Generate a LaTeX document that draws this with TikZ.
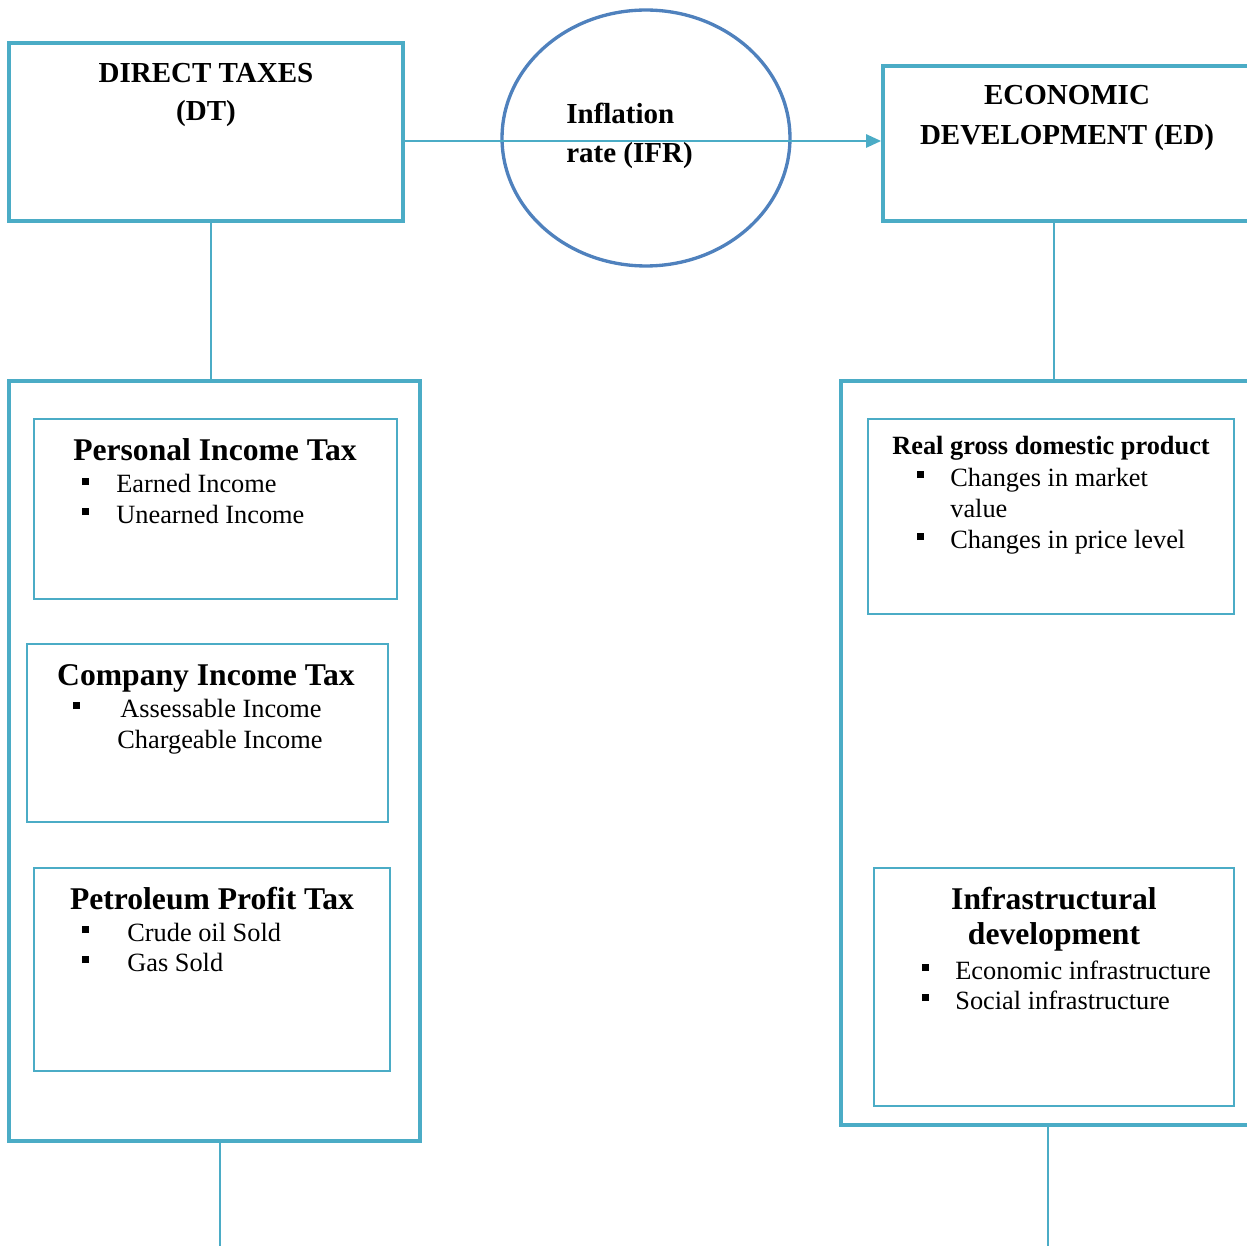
\documentclass[tikz,border=0pt]{standalone}
\usepackage{fontspec}
\setmainfont{Liberation Serif}
\usetikzlibrary{arrows.meta,fit,shapes.geometric}
\definecolor{tealfive}{RGB}{75,172,198}
\definecolor{ellblue}{RGB}{79,129,189}
\newcommand{\bsq}{\rule[0.3em]{0.27em}{0.27em}}
\newcommand{\bitem}[2]{\makebox[#1][l]{\bsq}#2}
\begin{document}
\begin{tikzpicture}[x=0.02cm,y=-0.02cm,
  outerbox/.style={draw=tealfive,line width=2.1pt,inner sep=0pt},
  bigbox/.style={draw=tealfive,line width=2.4pt,inner sep=0pt},
  innerbox/.style={draw=tealfive,line width=1.3pt,inner sep=0pt},
  conn/.style={draw=tealfive,line width=1.5pt},
  hdr/.style={font=\fontsize{16.5}{20}\selectfont\bfseries,inner sep=0pt,anchor=base},
  sub/.style={font=\fontsize{18}{22}\selectfont\bfseries,inner sep=0pt,anchor=base},
  subsm/.style={font=\fontsize{15}{18}\selectfont\bfseries,inner sep=0pt,anchor=base},
  itm/.style={font=\fontsize{15}{18}\selectfont,inner sep=0pt,anchor=base west},
]
\clip (0,0) rectangle (1247,1246);
% top boxes
\node[outerbox,fit={(9,43)(403,221)}] (dt) {};
\node[outerbox,fit={(883,66)(1265,221)}] (ed) {};
\node[ellipse,draw=ellblue,line width=1.9pt,minimum width=5.76cm,minimum height=5.12cm,inner sep=0pt] (ifr) at (646,138) {};
% big boxes
\node[bigbox,fit={(9,381)(420,1141)}] (lb) {};
\node[bigbox,fit={(841,381)(1265,1125)}] (rb) {};
% inner boxes
\node[innerbox,fit={(34,419)(397,599)}] (pit) {};
\node[innerbox,fit={(27,644)(388,822)}] (cit) {};
\node[innerbox,fit={(34,868)(390,1071)}] (ppt) {};
\node[innerbox,fit={(868,419)(1234,614)}] (rgdp) {};
\node[innerbox,fit={(874,868)(1234,1106)}] (infra) {};
% connectors
\draw[conn,-{Triangle[length=0.3cm,width=0.26cm]}] (dt.east |- 0,141) -- (ed.west |- 0,141);
\draw[conn] (dt.south -| 211,0) -- (lb.north -| 211,0);
\draw[conn] (ed.south -| 1054,0) -- (rb.north -| 1054,0);
\coordinate (lbend) at (220,1252);
\coordinate (rbend) at (1048,1252);
\draw[conn] (lb.south -| lbend) -- (lbend);
\draw[conn] (rb.south -| rbend) -- (rbend);
% texts
\node[hdr] (dt1) at (206,83) {DIRECT TAXES};
\node[hdr] (dt2) at (206,121) {(DT)};
\node[hdr,anchor=base west] (ifr1) at (566,124) {Inflation};
\node[hdr,anchor=base west] (ifr2) at (566,163) {rate (IFR)};
\node[hdr] (ed1) at (1067,105) {ECONOMIC};
\node[hdr] (ed2) at (1067,145) {DEVELOPMENT (ED)};
\node[sub] (pitT) at (215,460) {Personal Income Tax};
\node[itm] (pit1) at (82,493) {\bitem{0.68cm}{Earned Income}};
\node[itm] (pit2) at (82,523) {\bitem{0.68cm}{Unearned Income}};
\node[sub] (citT) at (206,685) {Company Income Tax};
\node[itm] (cit1) at (73,717) {\bitem{0.94cm}{Assessable Income}};
\node[itm] (cit2) at (117,748) {Chargeable Income};
\node[sub] (pptT) at (212,909) {Petroleum Profit Tax};
\node[itm] (ppt1) at (82,941) {\bitem{0.9cm}{Crude oil Sold}};
\node[itm] (ppt2) at (82,971) {\bitem{0.9cm}{Gas Sold}};
\node[subsm] (rgT) at (1051,455) {Real gross domestic product};
\node[itm] (rg1) at (917,486) {\bitem{0.66cm}{Changes in market}};
\node[itm] (rg2) at (950,518) {value};
\node[itm] (rg3) at (917,548) {\bitem{0.66cm}{Changes in price level}};
\node[sub] (inT1) at (1054,909) {Infrastructural};
\node[sub] (inT2) at (1054,944) {development};
\node[itm] (in1) at (922,979) {\bitem{0.66cm}{Economic infrastructure}};
\node[itm] (in2) at (922,1009) {\bitem{0.66cm}{Social infrastructure}};
\end{tikzpicture}
\end{document}
